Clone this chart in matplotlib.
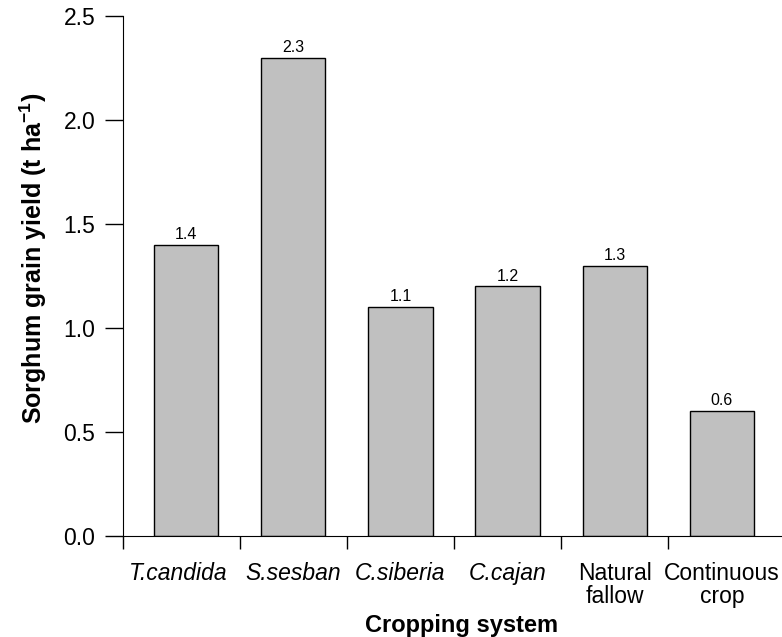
import matplotlib
matplotlib.use("Agg")
import matplotlib.pyplot as plt
import matplotlib.transforms as mtransforms
import numpy as np

plt.rcParams['font.family'] = ['Liberation Sans', 'DejaVu Sans']
plt.rcParams['mathtext.fontset'] = 'custom'
plt.rcParams['mathtext.rm'] = 'Liberation Sans'
plt.rcParams['mathtext.bf'] = 'Liberation Sans:bold'

# data
systems = ['T.candida', 'S.sesban', 'C.siberia', 'C.cajan', 'Natural\nfallow', 'Continuous\ncrop']
italic = [True, True, True, True, False, False]
yields = [1.4, 2.3, 1.1, 1.2, 1.3, 0.6]
yticks = [0.0, 0.5, 1.0, 1.5, 2.0, 2.5]

fig = plt.figure(figsize=(7.82, 6.37), dpi=100)
ax = fig.add_axes([123 / 782, 1 - 536 / 637, 1 - 123 / 782, (536 - 16) / 637])

x = np.arange(len(systems))
bars = ax.bar(x, yields, width=0.6, color='#c0c0c0', edgecolor='black', linewidth=1.0, zorder=2)

for xi, v in zip(x, yields):
    ax.annotate(f'{v:.1f}', (xi, v), xytext=(0, 2), textcoords='offset points',
                ha='center', va='bottom', fontsize=11.5)

x_left = -0.588
ax.set_xlim(x_left, 5.56)
ax.set_ylim(0, 2.5)

ax.set_yticks(yticks)
ax.set_yticklabels([f'{t:.1f}' for t in yticks])
ax.tick_params(axis='y', length=13, width=1, labelsize=16.5, pad=7)

# category labels at bar centres, tick marks between bars
ax.set_xticks(x)
ax.set_xticklabels(systems, fontsize=16.5, linespacing=1.0)
for lab, it in zip(ax.get_xticklabels(), italic):
    if it:
        lab.set_style('italic')
ax.tick_params(axis='x', which='major', length=0, pad=19)
ax.set_xticks([x_left] + list(x[:-1] + 0.5), minor=True)
ax.tick_params(axis='x', which='minor', length=9.5, width=1)

# first label sits a little left of its bar in the original
first = ax.get_xticklabels()[0]
first.set_transform(first.get_transform() + mtransforms.ScaledTranslation(-0.08, 0, fig.dpi_scale_trans))

ax.spines['top'].set_visible(False)
ax.spines['right'].set_visible(False)
ax.spines['left'].set_bounds(0, 2.5)

ax.set_ylabel('Sorghum grain yield (t ha$^{\\mathbf{-1}}$)', fontsize=18, fontweight='bold')
ax.yaxis.set_label_coords(-0.112, 0.535)
ax.set_xlabel('Cropping system', fontsize=17, fontweight='bold')
ax.xaxis.set_label_coords(0.514, -0.150)

fig.savefig('out.png', dpi=100)
